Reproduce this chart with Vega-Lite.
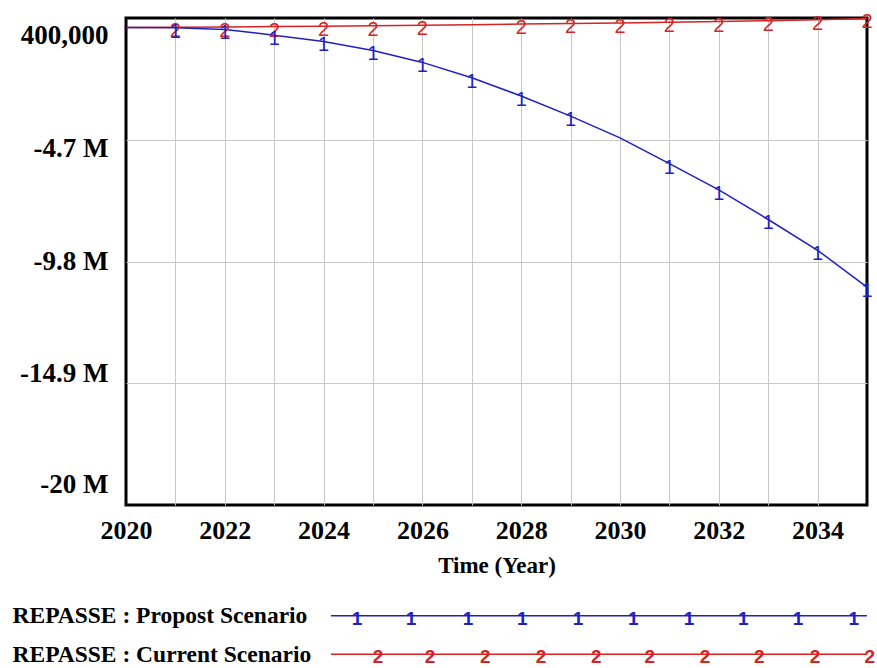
{
  "$schema": "https://vega.github.io/schema/vega-lite/v6.json",
  "background": "white",
  "padding": {"left": 12, "top": 10, "right": 4, "bottom": 0},
  "config": {
    "font": "Liberation Serif",
    "axis": {
      "labelFont": "Liberation Serif",
      "labelFontWeight": "bold",
      "labelColor": "black",
      "titleFont": "Liberation Serif",
      "titleFontWeight": "bold",
      "titleColor": "black",
      "ticks": false,
      "domain": false
    }
  },
  "datasets": {
    "runs": [
      {"scenario": "REPASSE : Current Scenario", "year": 2020, "value": 0},
      {"scenario": "REPASSE : Current Scenario", "year": 2021, "value": 10000},
      {"scenario": "REPASSE : Current Scenario", "year": 2022, "value": 25000},
      {"scenario": "REPASSE : Current Scenario", "year": 2023, "value": 40000},
      {"scenario": "REPASSE : Current Scenario", "year": 2024, "value": 55000},
      {"scenario": "REPASSE : Current Scenario", "year": 2025, "value": 75000},
      {"scenario": "REPASSE : Current Scenario", "year": 2026, "value": 95000},
      {"scenario": "REPASSE : Current Scenario", "year": 2027, "value": 120000},
      {"scenario": "REPASSE : Current Scenario", "year": 2028, "value": 145000},
      {"scenario": "REPASSE : Current Scenario", "year": 2029, "value": 170000},
      {"scenario": "REPASSE : Current Scenario", "year": 2030, "value": 195000},
      {"scenario": "REPASSE : Current Scenario", "year": 2031, "value": 220000},
      {"scenario": "REPASSE : Current Scenario", "year": 2032, "value": 250000},
      {"scenario": "REPASSE : Current Scenario", "year": 2033, "value": 290000},
      {"scenario": "REPASSE : Current Scenario", "year": 2034, "value": 330000},
      {"scenario": "REPASSE : Current Scenario", "year": 2035, "value": 380000},
      {"scenario": "REPASSE : Propost Scenario", "year": 2020, "value": 0},
      {"scenario": "REPASSE : Propost Scenario", "year": 2021, "value": -10000},
      {"scenario": "REPASSE : Propost Scenario", "year": 2022, "value": -80000},
      {"scenario": "REPASSE : Propost Scenario", "year": 2023, "value": -320000},
      {"scenario": "REPASSE : Propost Scenario", "year": 2024, "value": -580000},
      {"scenario": "REPASSE : Propost Scenario", "year": 2025, "value": -960000},
      {"scenario": "REPASSE : Propost Scenario", "year": 2026, "value": -1460000},
      {"scenario": "REPASSE : Propost Scenario", "year": 2027, "value": -2100000},
      {"scenario": "REPASSE : Propost Scenario", "year": 2028, "value": -2870000},
      {"scenario": "REPASSE : Propost Scenario", "year": 2029, "value": -3710000},
      {"scenario": "REPASSE : Propost Scenario", "year": 2030, "value": -4620000},
      {"scenario": "REPASSE : Propost Scenario", "year": 2031, "value": -5700000},
      {"scenario": "REPASSE : Propost Scenario", "year": 2032, "value": -6800000},
      {"scenario": "REPASSE : Propost Scenario", "year": 2033, "value": -8040000},
      {"scenario": "REPASSE : Propost Scenario", "year": 2034, "value": -9330000},
      {"scenario": "REPASSE : Propost Scenario", "year": 2035, "value": -10870000}
    ],
    "legend_lines": [
      {"scenario": "REPASSE : Propost Scenario"},
      {"scenario": "REPASSE : Current Scenario"}
    ],
    "legend_marks": [
      {"scenario": "REPASSE : Propost Scenario", "pos": 0.47},
      {"scenario": "REPASSE : Propost Scenario", "pos": 1.45},
      {"scenario": "REPASSE : Propost Scenario", "pos": 2.48},
      {"scenario": "REPASSE : Propost Scenario", "pos": 3.46},
      {"scenario": "REPASSE : Propost Scenario", "pos": 4.47},
      {"scenario": "REPASSE : Propost Scenario", "pos": 5.47},
      {"scenario": "REPASSE : Propost Scenario", "pos": 6.48},
      {"scenario": "REPASSE : Propost Scenario", "pos": 7.46},
      {"scenario": "REPASSE : Propost Scenario", "pos": 8.45},
      {"scenario": "REPASSE : Propost Scenario", "pos": 9.46},
      {"scenario": "REPASSE : Current Scenario", "pos": 0.85},
      {"scenario": "REPASSE : Current Scenario", "pos": 1.79},
      {"scenario": "REPASSE : Current Scenario", "pos": 2.79},
      {"scenario": "REPASSE : Current Scenario", "pos": 3.8},
      {"scenario": "REPASSE : Current Scenario", "pos": 4.8},
      {"scenario": "REPASSE : Current Scenario", "pos": 5.77},
      {"scenario": "REPASSE : Current Scenario", "pos": 6.77},
      {"scenario": "REPASSE : Current Scenario", "pos": 7.75},
      {"scenario": "REPASSE : Current Scenario", "pos": 8.76},
      {"scenario": "REPASSE : Current Scenario", "pos": 9.75}
    ]
  },
  "columns": 1,
  "align": "each",
  "spacing": 24,
  "resolve": {"scale": {"x": "independent", "y": "independent"}},
  "concat": [
    {
      "width": 741,
      "height": 487,
      "data": {"name": "runs"},
      "view": {"stroke": "black", "strokeWidth": 3},
      "encoding": {
        "x": {
          "field": "year",
          "type": "quantitative",
          "scale": {"domain": [2020, 2035], "nice": false},
          "axis": {
            "values": [2020, 2021, 2022, 2023, 2024, 2025, 2026, 2027, 2028, 2029, 2030, 2031, 2032, 2033, 2034, 2035],
            "labelExpr": "datum.value % 2 == 0 && datum.value < 2035 ? '' + datum.value : ''",
            "labelFontSize": 26,
            "labelPadding": 12,
            "labelFlush": false,
            "labelOverlap": false,
            "grid": true,
            "gridColor": {"condition": {"test": "datum.value == 2020 || datum.value == 2035", "value": "transparent"}, "value": "#c8c8c8"},
            "title": "Time (Year)",
            "titleFontSize": 23,
            "titlePadding": 11
          }
        },
        "y": {
          "field": "value",
          "type": "quantitative",
          "scale": {"domain": [-20000000, 400000], "nice": false, "zero": false},
          "axis": {
            "values": [400000, -4700000, -9800000, -14900000, -20000000],
            "labelExpr": "datum.value == 400000 ? '400,000' : '-' + format(-datum.value / 1000000, '.3~r') + ' M'",
            "labelFontSize": 27,
            "labelPadding": 18,
            "labelBaseline": "middle",
            "labelFlush": false,
            "labelOverlap": false,
            "labelOffset": {
              "condition": [
                {"test": "datum.value > 0", "value": 17},
                {"test": "datum.value == -4700000", "value": 9},
                {"test": "datum.value == -9800000", "value": 0},
                {"test": "datum.value == -14900000", "value": -10}
              ],
              "value": -21
            },
            "grid": true,
            "gridColor": {"condition": {"test": "datum.value == 400000 || datum.value == -20000000", "value": "transparent"}, "value": "#c8c8c8"},
            "title": null
          }
        },
        "color": {
          "field": "scenario",
          "type": "nominal",
          "scale": {"domain": ["REPASSE : Propost Scenario", "REPASSE : Current Scenario"], "range": ["#1f1fc8", "#d42424"]},
          "legend": null
        }
      },
      "layer": [
        {"mark": {"type": "line", "strokeWidth": 1.5}},
        {
          "transform": [
            {"filter": "datum.year > 2020 && !(datum.scenario == 'REPASSE : Propost Scenario' && datum.year == 2030) && !(datum.scenario == 'REPASSE : Current Scenario' && datum.year == 2027)"}
          ],
          "mark": {"type": "text", "font": "Liberation Sans", "fontSize": 20, "baseline": "middle", "dy": 4},
          "encoding": {
            "text": {"condition": {"test": "datum.scenario == 'REPASSE : Propost Scenario'", "value": "1"}, "value": "2"}
          }
        }
      ]
    },
    {
      "width": 741,
      "height": 46,
      "view": {"stroke": null},
      "encoding": {
        "y": {
          "field": "scenario",
          "type": "nominal",
          "scale": {"type": "point", "padding": 0.1, "domain": ["REPASSE : Propost Scenario", "REPASSE : Current Scenario"]},
          "axis": {
            "title": null,
            "labelAlign": "left",
            "labelPadding": 114,
            "labelFontSize": 23.5,
            "labelBaseline": "middle",
            "labelLimit": 400,
            "grid": false
          }
        },
        "color": {
          "field": "scenario",
          "type": "nominal",
          "scale": {"domain": ["REPASSE : Propost Scenario", "REPASSE : Current Scenario"], "range": ["#1f1fc8", "#d42424"]},
          "legend": null
        }
      },
      "layer": [
        {
          "data": {"name": "legend_lines"},
          "mark": {"type": "rule", "strokeWidth": 1.5},
          "encoding": {
            "x": {"datum": 0, "type": "quantitative", "scale": {"domain": [-3.71, 9.7], "nice": false, "zero": false}, "axis": null},
            "x2": {"datum": 9.7}
          }
        },
        {
          "data": {"name": "legend_marks"},
          "mark": {"type": "text", "font": "Liberation Sans", "fontSize": 19, "fontWeight": "bold", "baseline": "middle", "dy": 3},
          "encoding": {
            "x": {"field": "pos", "type": "quantitative", "axis": null},
            "text": {"condition": {"test": "datum.scenario == 'REPASSE : Propost Scenario'", "value": "1"}, "value": "2"}
          }
        }
      ]
    }
  ]
}
